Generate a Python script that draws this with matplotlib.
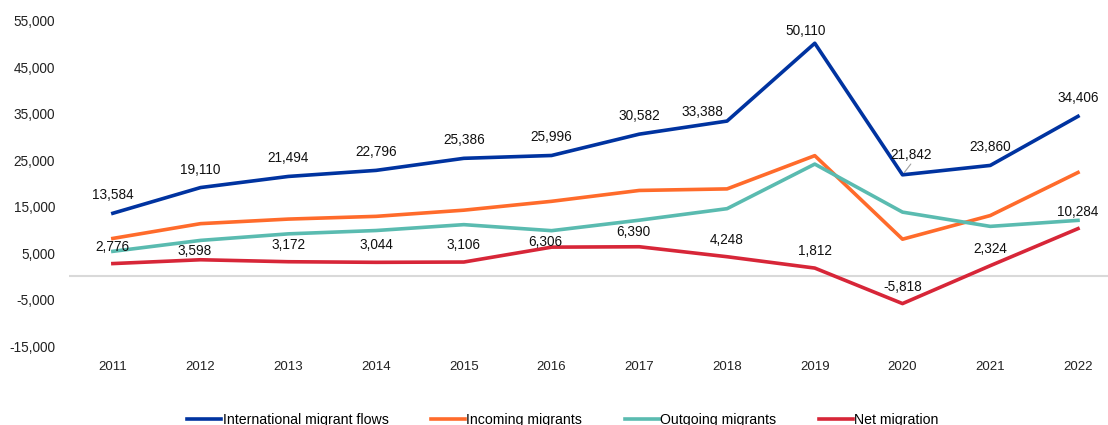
import matplotlib.pyplot as plt

years = [2011, 2012, 2013, 2014, 2015, 2016, 2017, 2018, 2019, 2020, 2021, 2022]
flows = [13584, 19110, 21494, 22796, 25386, 25996, 30582, 33388, 50110, 21842, 23860, 34406]
incoming = [8180, 11354, 12333, 12920, 14246, 16151, 18486, 18818, 25961, 8012, 13092, 22345]
outgoing = [5404, 7756, 9161, 9876, 11140, 9845, 12096, 14570, 24149, 13830, 10768, 12061]
net = [2776, 3598, 3172, 3044, 3106, 6306, 6390, 4248, 1812, -5818, 2324, 10284]
yticks = [-15000, -5000, 5000, 15000, 25000, 35000, 45000, 55000]

BLUE = "#0033A0"
ORANGE = "#FF6B2B"
TEAL = "#5ABBB0"
RED = "#D72638"

plt.rcParams["font.family"] = ["Liberation Sans", "DejaVu Sans"]

fig = plt.figure(figsize=(11.08, 4.25), dpi=100)
ax = fig.add_axes([69 / 1108, 70 / 425, 1 - 69 / 1108, 355 / 425])

ax.axhline(0, color="#d9d9d9", lw=1.5, zorder=1)
lw = 2.6
ax.plot(years, flows, color=BLUE, lw=lw, label="International migrant flows", zorder=3)
ax.plot(years, incoming, color=ORANGE, lw=lw, label="Incoming migrants", zorder=3)
ax.plot(years, outgoing, color=TEAL, lw=lw, label="Outgoing migrants", zorder=3)
ax.plot(years, net, color=RED, lw=lw, label="Net migration", zorder=3)

ax.set_xlim(2010.5, 2022.342)
ax.set_ylim(-16864, 59398)
ax.set_yticks(yticks)
ax.set_yticklabels([f"{v:,}" for v in yticks], fontsize=9.8, color="#222222")
ax.set_xticks(years)
ax.set_xticklabels([str(y) for y in years], fontsize=9.5, color="#222222")
ax.tick_params(length=0)
ax.tick_params(axis="y", pad=10)
ax.tick_params(axis="x", pad=4)
for s in ax.spines.values():
    s.set_visible(False)

# label offsets in pixels (default ~17 above the point)
flow_off = {2018: (-25, 9), 2019: (-9, 12), 2020: (9, 20)}
net_off = {2012: (-6, 9), 2016: (-6, 5), 2017: (-6, 15)}

px = 0.72  # points per pixel at 100 dpi
for yr, v in zip(years, flows):
    dx, dy = flow_off.get(yr, (0, 18))
    ax.annotate(f"{v:,}", (yr, v), xytext=(dx * px, dy * px), textcoords="offset points",
                ha="center", va="center", fontsize=9.8, color="#111111", zorder=4)
ax.annotate("", (2020, flows[9]), xytext=(2020 + 10 / 87.7, flows[9] + 13 * 10000 / 46.55),
            arrowprops=dict(arrowstyle="-", color="#a0a0a0", lw=0.8), zorder=4)
for yr, v in zip(years, net):
    dx, dy = net_off.get(yr, (0, 17))
    ax.annotate(f"{v:,}", (yr, v), xytext=(dx * px, dy * px), textcoords="offset points",
                ha="center", va="center", fontsize=9.8, color="#111111", zorder=4)

fig.legend(loc="center", bbox_to_anchor=(0.508, 0.012), ncol=4, frameon=False,
           prop={"size": 10.2}, handlelength=2.4, handletextpad=0.1,
           columnspacing=3.0)

fig.savefig("out.png", dpi=100)
